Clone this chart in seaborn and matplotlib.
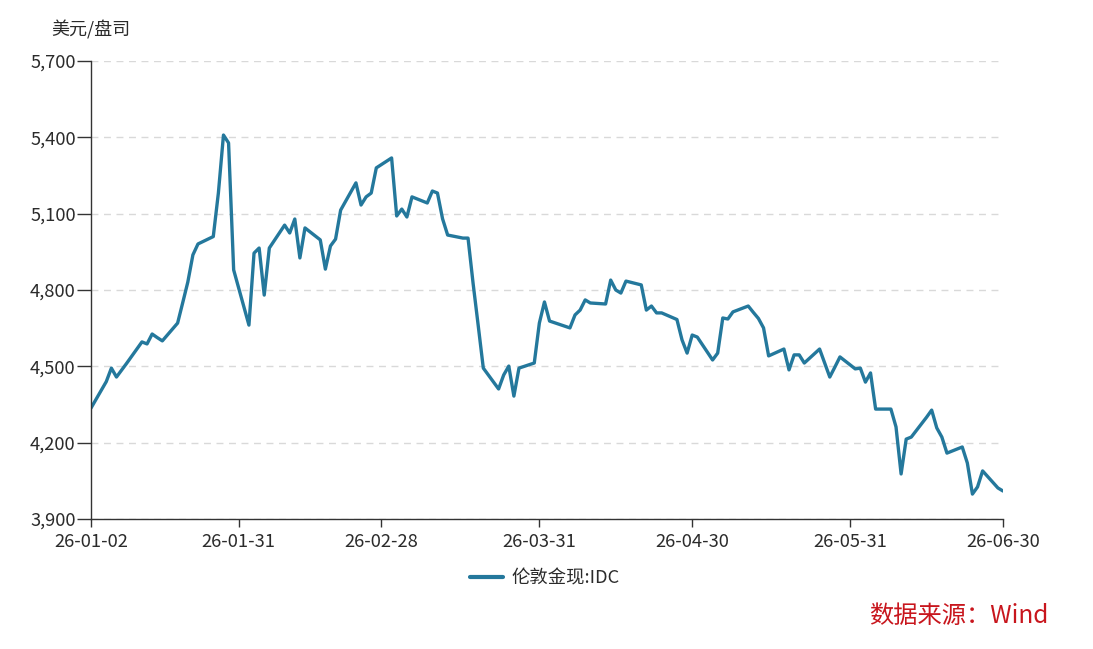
import matplotlib
matplotlib.use("Agg")
import matplotlib.pyplot as plt
import matplotlib.dates as mdates
from matplotlib.ticker import FuncFormatter, FixedLocator
import seaborn as sns
import pandas as pd

# ---- data ----
dates = [
    "2026-01-02", "2026-01-05", "2026-01-06", "2026-01-07", "2026-01-08", "2026-01-09",
    "2026-01-12", "2026-01-13", "2026-01-14", "2026-01-15", "2026-01-16",
    "2026-01-19", "2026-01-20", "2026-01-21", "2026-01-22", "2026-01-23",
    "2026-01-26", "2026-01-27", "2026-01-28", "2026-01-29", "2026-01-30",
    "2026-02-02", "2026-02-03", "2026-02-04", "2026-02-05", "2026-02-06",
    "2026-02-09", "2026-02-10", "2026-02-11", "2026-02-12", "2026-02-13",
    "2026-02-16", "2026-02-17", "2026-02-18", "2026-02-19", "2026-02-20",
    "2026-02-23", "2026-02-24", "2026-02-25", "2026-02-26", "2026-02-27",
    "2026-03-02", "2026-03-03", "2026-03-04", "2026-03-05", "2026-03-06",
    "2026-03-09", "2026-03-10", "2026-03-11", "2026-03-12", "2026-03-13",
    "2026-03-16", "2026-03-17", "2026-03-18", "2026-03-19", "2026-03-20",
    "2026-03-23", "2026-03-24", "2026-03-25", "2026-03-26", "2026-03-27",
    "2026-03-30", "2026-03-31", "2026-04-01", "2026-04-02",
    "2026-04-06", "2026-04-07", "2026-04-08", "2026-04-09", "2026-04-10",
    "2026-04-13", "2026-04-14", "2026-04-15", "2026-04-16", "2026-04-17",
    "2026-04-20", "2026-04-21", "2026-04-22", "2026-04-23", "2026-04-24",
    "2026-04-27", "2026-04-28", "2026-04-29", "2026-04-30", "2026-05-01",
    "2026-05-04", "2026-05-05", "2026-05-06", "2026-05-07", "2026-05-08",
    "2026-05-11", "2026-05-12", "2026-05-13", "2026-05-14", "2026-05-15",
    "2026-05-18", "2026-05-19", "2026-05-20", "2026-05-21", "2026-05-22",
    "2026-05-25", "2026-05-26", "2026-05-27", "2026-05-28", "2026-05-29",
    "2026-06-01", "2026-06-02", "2026-06-03", "2026-06-04", "2026-06-05",
    "2026-06-08", "2026-06-09", "2026-06-10", "2026-06-11", "2026-06-12",
    "2026-06-15", "2026-06-16", "2026-06-17", "2026-06-18", "2026-06-19",
    "2026-06-22", "2026-06-23", "2026-06-24", "2026-06-25", "2026-06-26",
    "2026-06-29", "2026-06-30",
]
gold_price = [
    4336, 4440, 4493, 4458, 4485, 4512,
    4596, 4588, 4627, 4613, 4600,
    4670, 4750, 4831, 4938, 4981,
    5010, 5181, 5409, 5378, 4879,
    4662, 4945, 4965, 4780, 4965,
    5055, 5024, 5079, 4926, 5044,
    4997, 4882, 4973, 5000, 5114,
    5221, 5134, 5166, 5181, 5280,
    5319, 5091, 5118, 5087, 5166,
    5142, 5189, 5181, 5080, 5016,
    5004, 5004, 4825, 4660, 4493,
    4411, 4466, 4501, 4383, 4493,
    4513, 4670, 4753, 4678,
    4651, 4702, 4721, 4761, 4749,
    4745, 4839, 4800, 4788, 4835,
    4820, 4721, 4737, 4710, 4710,
    4684, 4604, 4552, 4623, 4615,
    4525, 4552, 4690, 4686, 4714,
    4737, 4712, 4688, 4651, 4541,
    4568, 4486, 4545, 4545, 4513,
    4568, 4513, 4458, 4497, 4537,
    4490, 4493, 4438, 4474, 4332,
    4332, 4262, 4077, 4214, 4222,
    4300, 4328, 4258, 4222, 4159,
    4183, 4120, 3998, 4026, 4089,
    4022, 4010,
]
series_name = "伦敦金现:IDC"
x_tick_dates = ["2026-01-02", "2026-01-31", "2026-02-28", "2026-03-31",
                "2026-04-30", "2026-05-31", "2026-06-30"]
y_ticks = [3900, 4200, 4500, 4800, 5100, 5400, 5700]
y_unit = "美元/盘司"
source_text = "数据来源：Wind"

# ---- style ----
sns.set_style("white")
plt.rcParams["font.family"] = ["Noto Sans CJK SC", "DejaVu Sans"]

line_color = "#24789c"
text_color = "#2b2b2b"

df = pd.DataFrame({"date": pd.to_datetime(dates), "price": gold_price, "series": series_name})

fig = plt.figure(figsize=(10.93, 6.49), dpi=100)
ax = fig.add_axes([91 / 1093, 1 - 519 / 649, (1003 - 91) / 1093, (519 - 61) / 649])

sns.lineplot(data=df, x="date", y="price", hue="series", palette=[line_color],
             linewidth=2.4, ax=ax, legend=True)

ax.set_xlim(pd.Timestamp("2026-01-02"), pd.Timestamp("2026-06-30"))
ax.set_ylim(3900, 5700)

ax.xaxis.set_major_locator(FixedLocator(mdates.date2num(pd.to_datetime(x_tick_dates))))
ax.xaxis.set_major_formatter(mdates.DateFormatter("%y-%m-%d"))
ax.set_yticks(y_ticks)
ax.yaxis.set_major_formatter(FuncFormatter(lambda v, p: f"{int(v):,}"))

ax.grid(axis="y", linestyle=(0, (5, 4)), color="#d9d9d9", linewidth=1.0)
ax.grid(axis="x", visible=False)
ax.set_axisbelow(True)

for s in ["top", "right"]:
    ax.spines[s].set_visible(False)
for s in ["left", "bottom"]:
    ax.spines[s].set_color("#333333")
    ax.spines[s].set_linewidth(1.0)

ax.tick_params(axis="y", which="major", length=10, width=1.0, color="#333333",
               labelsize=13.2, labelcolor=text_color, pad=1, left=True)
ax.tick_params(axis="x", which="major", length=6, width=1.0, color="#333333",
               labelsize=13.2, labelcolor=text_color, pad=4, bottom=True)

ax.set_xlabel("")
ax.set_ylabel("")

fig.text(51 / 1093, 1 - 30 / 649, y_unit, ha="left", va="center",
         fontsize=13, color=text_color)

handles, labels = ax.get_legend_handles_labels()
ax.legend(handles, labels, loc="center", bbox_to_anchor=(545 / 1093, 1 - 578 / 649),
          bbox_transform=fig.transFigure, frameon=False, fontsize=13.2,
          handlelength=1.8, handletextpad=0.5, labelcolor=text_color)
for l in ax.get_legend().get_lines():
    l.set_linewidth(3.0)

fig.text(1048 / 1093, 1 - 616 / 649, source_text, ha="right", va="center",
         fontsize=17.5, color="#c8161d")

fig.savefig("out.png", dpi=100, facecolor="white")
